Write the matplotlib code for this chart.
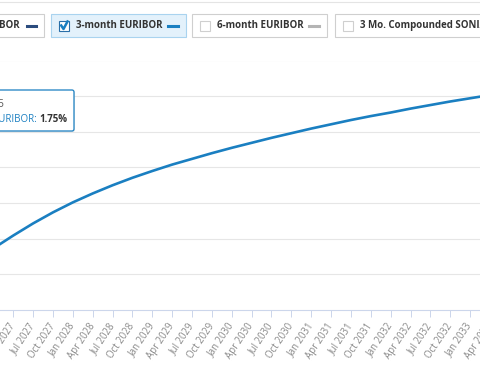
import matplotlib.pyplot as plt
import matplotlib.transforms as mtrans
from matplotlib.patches import Rectangle, FancyBboxPatch
from matplotlib.lines import Line2D

plt.rcParams["font.family"] = ["Open Sans", "DejaVu Sans"]

# quarterly forecast of the 3-month EURIBOR (%)
quarters = [
    "Jan 2027", "Apr 2027", "Jul 2027", "Oct 2027",
    "Jan 2028", "Apr 2028", "Jul 2028", "Oct 2028",
    "Jan 2029", "Apr 2029", "Jul 2029", "Oct 2029",
    "Jan 2030", "Apr 2030", "Jul 2030", "Oct 2030",
    "Jan 2031", "Apr 2031", "Jul 2031", "Oct 2031",
    "Jan 2032", "Apr 2032", "Jul 2032", "Oct 2032",
    "Jan 2033", "Apr 2033",
]
euribor_3m = [
    1.873, 1.909, 1.943, 1.974, 2.002, 2.027, 2.050, 2.071, 2.090,
    2.108, 2.124, 2.140, 2.155, 2.169, 2.183, 2.196, 2.209, 2.221,
    2.233, 2.244, 2.254, 2.265, 2.275, 2.285, 2.294, 2.303,
]

legend_names = ["1-month EURIBOR", "3-month EURIBOR", "6-month EURIBOR",
                "3 Mo. Compounded SONIA"]
tooltip_date = "Jan 2025"
tooltip_value = "1.75%"

BLUE = "#1a7fc1"
W, H = 480, 384


def px(x0, x1, y0, y1):
    # axes rectangle from a pixel box (y measured from the top)
    return [x0 / W, 1 - y1 / H, (x1 - x0) / W, (y1 - y0) / H]


def main():
    fig = plt.figure(figsize=(4.8, 3.84), dpi=100)

    # main chart, wider than the canvas (the screenshot is cropped)
    ax = fig.add_axes(px(-40, 520, 60.5, 310))
    xs = list(range(len(quarters)))
    ax.plot(xs, euribor_3m, color=BLUE, lw=1.9, solid_capstyle="round")
    step = 19.86
    q0 = 13.3 - step  # pixel of Jan 2027
    ax.set_xlim((-40 - q0) / step, (520 - q0) / step)
    ax.set_ylim(1.7, 2.4)
    ax.set_yticks([1.8, 1.9, 2.0, 2.1, 2.2, 2.3, 2.4])
    ax.yaxis.grid(True, color="#e6e6e6", lw=0.8)
    ax.tick_params(axis="y", left=False, labelleft=False)
    ax.set_xticks(xs)
    ax.set_xticklabels(quarters, rotation=56, ha="right", va="center",
                       rotation_mode="anchor", fontsize=6.9, color="#8a8a8a")
    ax.tick_params(axis="x", length=5, width=0.72, color="#ccd6eb", pad=5)
    for s in ["top", "left", "right"]:
        ax.spines[s].set_visible(False)
    ax.spines["bottom"].set_color("#ccd6eb")
    ax.spines["bottom"].set_linewidth(0.8)
    ax.set_axisbelow(True)

    # overlay in pixel coordinates for legend buttons and tooltip
    ov = fig.add_axes([0, 0, 1, 1])
    ov.set_xlim(0, W)
    ov.set_ylim(H, 0)
    ov.axis("off")
    ov.patch.set_alpha(0)

    ov.add_line(Line2D([0, W], [1.5, 1.5], color="#e4e4e4", lw=0.8))

    boxes = [(-100, 44), (51, 186), (192, 327), (335, 600)]
    dash_cols = ["#2b4c7e", BLUE, "#b4b4b4", None]
    for i, (x0, x1) in enumerate(boxes):
        sel = i == 1
        ov.add_patch(Rectangle((x0, 14), x1 - x0, 23,
                               fc="#e3f1fb" if sel else "white",
                               ec="#a9d3ef" if sel else "#cfcfcf", lw=0.8))
        if i == 0:
            ov.text(20, 25.8, legend_names[i], ha="right", va="center",
                    fontsize=7, fontweight="bold", color="#333333")
            ov.add_line(Line2D([27, 36], [25.5, 25.5], color=dash_cols[i],
                               lw=2.2))
            continue
        cx = x0 + 8
        ov.add_patch(Rectangle((cx, 21), 9.5, 9.5, fc="white",
                               ec="#2a6fa8" if sel else "#cfcfcf", lw=0.8))
        if sel:
            ov.add_line(Line2D([cx + 2.2, cx + 4.5, cx + 8.5],
                               [25.5, 29, 21.5], color=BLUE, lw=1.8))
        ov.text(cx + 17, 25.8, legend_names[i], ha="left", va="center",
                fontsize=7, fontweight="bold", color="#333333")
        if dash_cols[i]:
            ov.add_line(Line2D([x1 - 18, x1 - 8], [25.5, 25.5],
                               color=dash_cols[i], lw=2.2))

    # tooltip with a faint shadow
    shadow = ov.transData + mtrans.Affine2D().translate(1, -1)
    ov.add_patch(FancyBboxPatch((-20, 90), 94, 41,
                                boxstyle="round,pad=0,rounding_size=2",
                                fc="#dddddd", ec="none", alpha=0.5,
                                transform=shadow))
    ov.add_patch(FancyBboxPatch((-20, 90), 94, 41,
                                boxstyle="round,pad=0,rounding_size=2",
                                fc="white", ec=BLUE, lw=0.9))
    ov.text(5, 103.5, tooltip_date, ha="right", va="center", fontsize=7,
            color="#555555")
    ov.text(37, 119, legend_names[1] + ":", ha="right", va="center",
            fontsize=7, color=BLUE)
    ov.text(39.5, 119, tooltip_value, ha="left", va="center", fontsize=7,
            fontweight="bold", color="#333333")

    fig.savefig("out.png", dpi=100)


if __name__ == "__main__":
    main()
